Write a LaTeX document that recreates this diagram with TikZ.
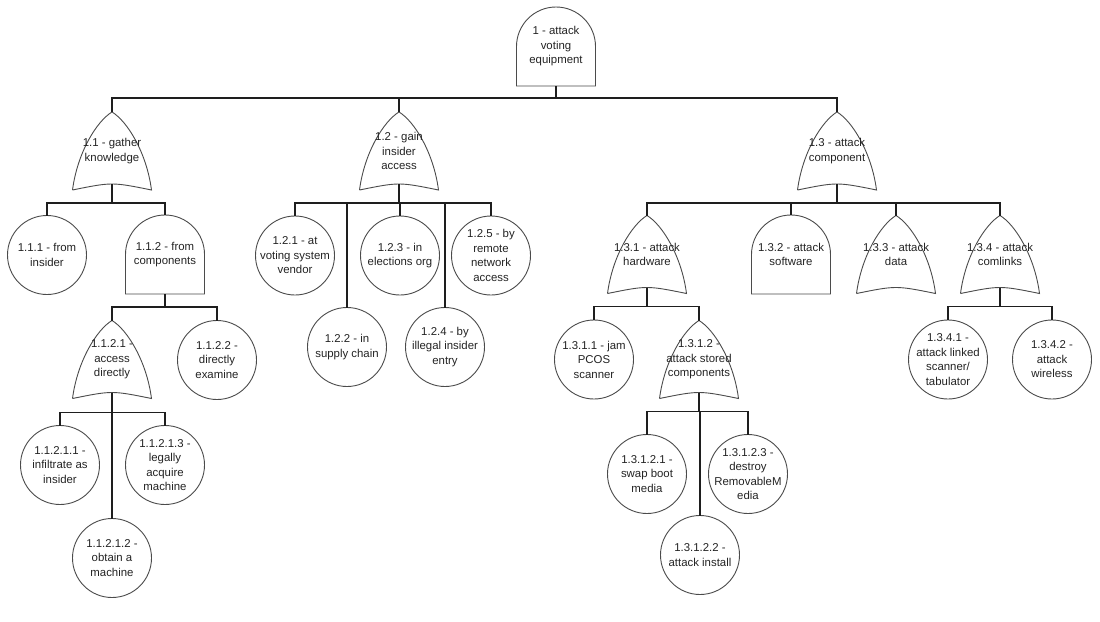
\documentclass[tikz,border=0pt]{standalone}
\usepackage{fontspec}
\setmainfont{Liberation Sans}
\usepackage{tikz}
\usetikzlibrary{calc}
\definecolor{lineink}{RGB}{30,30,30}
\definecolor{shapeink}{RGB}{75,75,75}
\definecolor{textink}{RGB}{35,35,35}

\tikzset{
  treenode/.style={inner sep=0pt, outer sep=0pt, align=center, text=textink,
    font=\fontsize{11.4}{14.5}\selectfont},
  gateline/.style={draw=shapeink, line width=0.9pt},
  link/.style={draw=lineink, line width=1.3pt},
  event/.style={treenode, circle, gateline, minimum size=79pt, inner sep=-12pt},
  orgate/.style={treenode, minimum width=79pt, minimum height=78pt,
    append after command={\pgfextra{\draw[gateline]
      (\tikzlastnode.south west)
      .. controls ([shift={(5pt,38pt)}]\tikzlastnode.south west)
      and ([shift={(-15pt,-9pt)}]\tikzlastnode.north) .. (\tikzlastnode.north)
      .. controls ([shift={(15pt,-9pt)}]\tikzlastnode.north)
      and ([shift={(-5pt,38pt)}]\tikzlastnode.south east) .. (\tikzlastnode.south east)
      .. controls ([yshift=8pt]\tikzlastnode.south) .. (\tikzlastnode.south west);}}},
  andgate/.style={treenode, minimum width=79pt, minimum height=79pt,
    append after command={\pgfextra{\draw[gateline]
      (\tikzlastnode.west) arc[start angle=180, end angle=0, radius=39.5pt]
      -- (\tikzlastnode.south east) -- (\tikzlastnode.south west) -- cycle;}}}
}

\begin{document}
\begin{tikzpicture}[x=1pt, y=-1pt]
  \useasboundingbox (0,0) rectangle (1100,621);
  % top event
  \node[andgate] (top) at (556,46.5) {1 - attack\\voting\\equipment};
  % first level
  \node[orgate] (g11) at (112,151) {1.1 - gather\\knowledge};
  \node[orgate] (g12) at (399,151) {1.2 - gain\\insider\\access};
  \node[orgate] (g13) at (837,151) {1.3 - attack\\component};
  % gather knowledge branch
  \node[event] (e111) at (47,255) {1.1.1 - from\\insider};
  \node[andgate] (g112) at (165,254.5) {1.1.2 - from\\components};
  \node[orgate] (g1121) at (112,359.5) {1.1.2.1 -\\access\\directly};
  \node[event] (e1122) at (217,360) {1.1.2.2 -\\directly\\examine};
  \node[event] (e11211) at (60,465) {1.1.2.1.1 -\\infiltrate as\\insider};
  \node[event] (e11212) at (112,558) {1.1.2.1.2 -\\obtain a\\machine};
  \node[event] (e11213) at (165,465) {1.1.2.1.3 -\\legally\\acquire\\machine};
  % insider access branch
  \node[event] (e121) at (295,255.5) {1.2.1 - at\\voting system\\vendor};
  \node[event] (e122) at (347,347) {1.2.2 - in\\supply chain};
  \node[event] (e123) at (400,255.5) {1.2.3 - in\\elections org};
  \node[event] (e124) at (445,347) {1.2.4 - by\\illegal insider\\entry};
  \node[event] (e125) at (491,255.5) {1.2.5 - by\\remote\\network\\access};
  % component branch
  \node[orgate] (g131) at (647,254.5) {1.3.1 - attack\\hardware};
  \node[andgate] (g132) at (791,254.5) {1.3.2 - attack\\software};
  \node[orgate] (g133) at (896,254.5) {1.3.3 - attack\\data};
  \node[orgate] (g134) at (1000,254.5) {1.3.4 - attack\\comlinks};
  \node[event] (e1311) at (594,359.5) {1.3.1.1 - jam\\PCOS\\scanner};
  \node[orgate] (g1312) at (699,359.5) {1.3.1.2 -\\attack stored\\components};
  \node[event] (e13121) at (647,474) {1.3.1.2.1 -\\swap boot\\media};
  \node[event] (e13122) at (700,555) {1.3.1.2.2 -\\attack install};
  \node[event] (e13123) at (748,474) {1.3.1.2.3 -\\destroy\\RemovableM\\edia};
  \node[event] (e1341) at (948,359.5) {1.3.4.1 -\\attack linked\\scanner/\\tabulator};
  \node[event] (e1342) at (1052,359.5) {1.3.4.2 -\\attack\\wireless};

  % connectors
  \foreach \c in {g11,g12,g13}
    \draw[link] (top.south) -- ([yshift=-12pt]top.south) -| (\c.north);
  \foreach \c in {e111,g112}
    \draw[link] ([yshift=6pt]g11.south) -- ([yshift=-13pt]g11.south) -| (\c.north);
  \foreach \c in {g1121,e1122}
    \draw[link] (g112.south) -- ([yshift=-13pt]g112.south) -| (\c.north);
  \foreach \c in {e11211,e11212,e11213}
    \draw[link] ([yshift=6pt]g1121.south) -- ([yshift=-14pt]g1121.south) -| (\c.north);
  \foreach \c in {e121,e122,e123,e124,e125}
    \draw[link] ([yshift=6pt]g12.south) -- ([yshift=-13pt]g12.south) -| (\c.north);
  \foreach \c in {g131,g132,g133,g134}
    \draw[link] ([yshift=6pt]g13.south) -- ([yshift=-13pt]g13.south) -| (\c.north);
  \foreach \c in {e1311,g1312}
    \draw[link] ([yshift=6pt]g131.south) -- ([yshift=-13pt]g131.south) -| (\c.north);
  \foreach \c in {e13121,e13122,e13123}
    \draw[link] ([yshift=6pt]g1312.south) -- ([yshift=-13pt]g1312.south) -| (\c.north);
  \foreach \c in {e1341,e1342}
    \draw[link] ([yshift=6pt]g134.south) -- ([yshift=-13pt]g134.south) -| (\c.north);
\end{tikzpicture}
\end{document}
